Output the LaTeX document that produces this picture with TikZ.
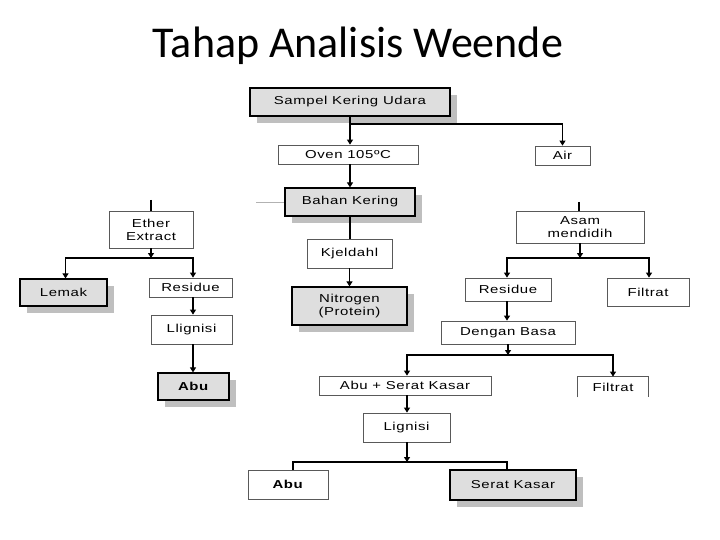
\documentclass[tikz,border=0pt]{standalone}
\usepackage{fontspec}
\usepackage{tikz}
\usetikzlibrary{arrows.meta,positioning,shadows,calc}
\newfontfamily\titlefont{Carlito}
\newfontfamily\boxfont[FakeStretch=1.3,LetterSpace=5]{Liberation Sans}

\begin{document}
\begin{tikzpicture}[
    x=1pt, y=-1pt,
    font=\boxfont\fontsize{11.5}{13}\selectfont,
    plain/.style={draw=black!65, line width=0.8pt, fill=white, align=center, inner sep=0pt},
    shade/.style={draw=black, line width=1.2pt, fill=black!13, align=center, inner sep=0pt,
        drop shadow={shadow xshift=7pt, shadow yshift=-7pt, fill=black!25, opacity=1}},
    arr/.style={-{Triangle[width=6pt,length=5pt]}, line width=1.1pt},
    lin/.style={line width=1.1pt}
]
\useasboundingbox (0,0) rectangle (720,540);

\node[font=\titlefont\fontsize{44}{50}\selectfont] (title) at (358,46) {Tahap Analisis Weende};

% main column
\node[shade, minimum width=200pt, minimum height=28pt] (sampel) at (350,102) {Sampel Kering Udara};
\node[plain, minimum width=140pt, minimum height=19pt] (oven) at (348,154.5) {Oven 105ºC};
\node[plain, minimum width=55pt, minimum height=19pt] (air) at (562.5,155.5) {Air};
\node[shade, minimum width=130pt, minimum height=28pt] (bahan) at (350,202) {Bahan Kering};
\node[plain, minimum width=85pt, minimum height=29pt] (kjeldahl) at (349.5,253.5) {Kjeldahl};
\node[shade, minimum width=115pt, minimum height=38pt] (nitrogen) at (349.5,306) {Nitrogen\\(Protein)};

% left branch
\node[plain, minimum width=84pt, minimum height=37pt] (ether) at (151,229.5) {Ether\\Extract};
\node[shade, minimum width=87pt, minimum height=27pt] (lemak) at (63.5,292.5) {Lemak};
\node[plain, minimum width=83pt, minimum height=19pt] (residueL) at (190.5,287.5) {Residue};
\node[plain, minimum width=81pt, minimum height=29pt] (llignisi) at (191.5,329.5) {Llignisi};
\node[shade, minimum width=71pt, minimum height=27pt] (abuL) at (193.5,386.5) {\textbf{Abu}};

% right branch
\node[plain, minimum width=128pt, minimum height=32pt] (asam) at (580,227) {Asam\\mendidih};
\node[plain, minimum width=86pt, minimum height=23pt] (residueR) at (508,289.5) {Residue};
\node[plain, minimum width=82pt, minimum height=28pt] (filtratR) at (648,292) {Filtrat};
\node[plain, minimum width=134pt, minimum height=23pt] (dengan) at (508,332.5) {Dengan Basa};
\node[plain, minimum width=172pt, minimum height=19pt] (abuserat) at (405,385.5) {Abu + Serat Kasar};
\node[plain, draw=none, minimum width=70pt, minimum height=20pt] (filtratB) at (613,387) {Filtrat};
\draw[black!65, line width=0.8pt] (filtratB.south west) -- (filtratB.north west) -- (filtratB.north east) -- (filtratB.south east);
\node[plain, minimum width=87pt, minimum height=29pt] (lignisi) at (406.5,427.5) {Lignisi};
\node[plain, minimum width=80pt, minimum height=29pt] (abuB) at (288,484.5) {\textbf{Abu}};
\node[shade, minimum width=126pt, minimum height=30pt] (serat) at (513,485) {Serat Kasar};

% junctions and loose ends
\coordinate (jS) at (350,124);
\coordinate (jE) at (151,258);
\coordinate (jA) at (580,258);
\coordinate (jD) at (508,355);
\coordinate (jL) at (407,462);
\coordinate (topE) at (151,200);
\coordinate (topA) at (579,202);
\coordinate (stubB) at (256,202);

% connectors
\draw[arr] (sampel.south) -- (sampel.south |- oven.north);
\draw[arr] (jS) -| (air.north);
\draw[arr] (sampel.south |- oven.south) -- (sampel.south |- bahan.north);
\draw[lin] (bahan.south) -- (bahan.south |- kjeldahl.north);
\draw[arr] (kjeldahl.south) -- (kjeldahl.south |- nitrogen.north);
\draw[black!30, line width=0.8pt] (stubB) -- (bahan.west);

\draw[lin] (topE) -- (ether.north);
\draw[arr] (ether.south) -- (jE);
\draw[arr] (jE) -| ([xshift=2pt]lemak.north);
\draw[arr] (jE) -| ([xshift=2.5pt]residueL.north);
\draw[arr] ([xshift=2.5pt]residueL.south) -- ([xshift=1.5pt]llignisi.north);
\draw[arr] ([xshift=1.5pt]llignisi.south) -- ([xshift=-0.5pt]abuL.north);

\draw[lin] (topA) -- (topA |- asam.north);
\draw[arr] (asam.south) -- (jA);
\draw[arr] (jA) -| ([xshift=-1pt]residueR.north);
\draw[arr] (jA) -| ([xshift=1pt]filtratR.north);
\draw[arr] ([xshift=-1pt]residueR.south) -- ([xshift=-1pt]dengan.north);
\draw[arr] (dengan.south) -- (jD);
\draw[arr] (jD) -| ([xshift=2pt]abuserat.north);
\draw[arr] (jD) -| (filtratB.north);
\draw[arr] ([xshift=2pt]abuserat.south) -- ([xshift=0.5pt]lignisi.north);
\draw[arr] ([xshift=0.5pt]lignisi.south) -- (jL);
\draw[lin] (jL) -| ([xshift=5pt]abuB.north);
\draw[lin] (jL) -| ([xshift=-6pt]serat.north);
\end{tikzpicture}
\end{document}
